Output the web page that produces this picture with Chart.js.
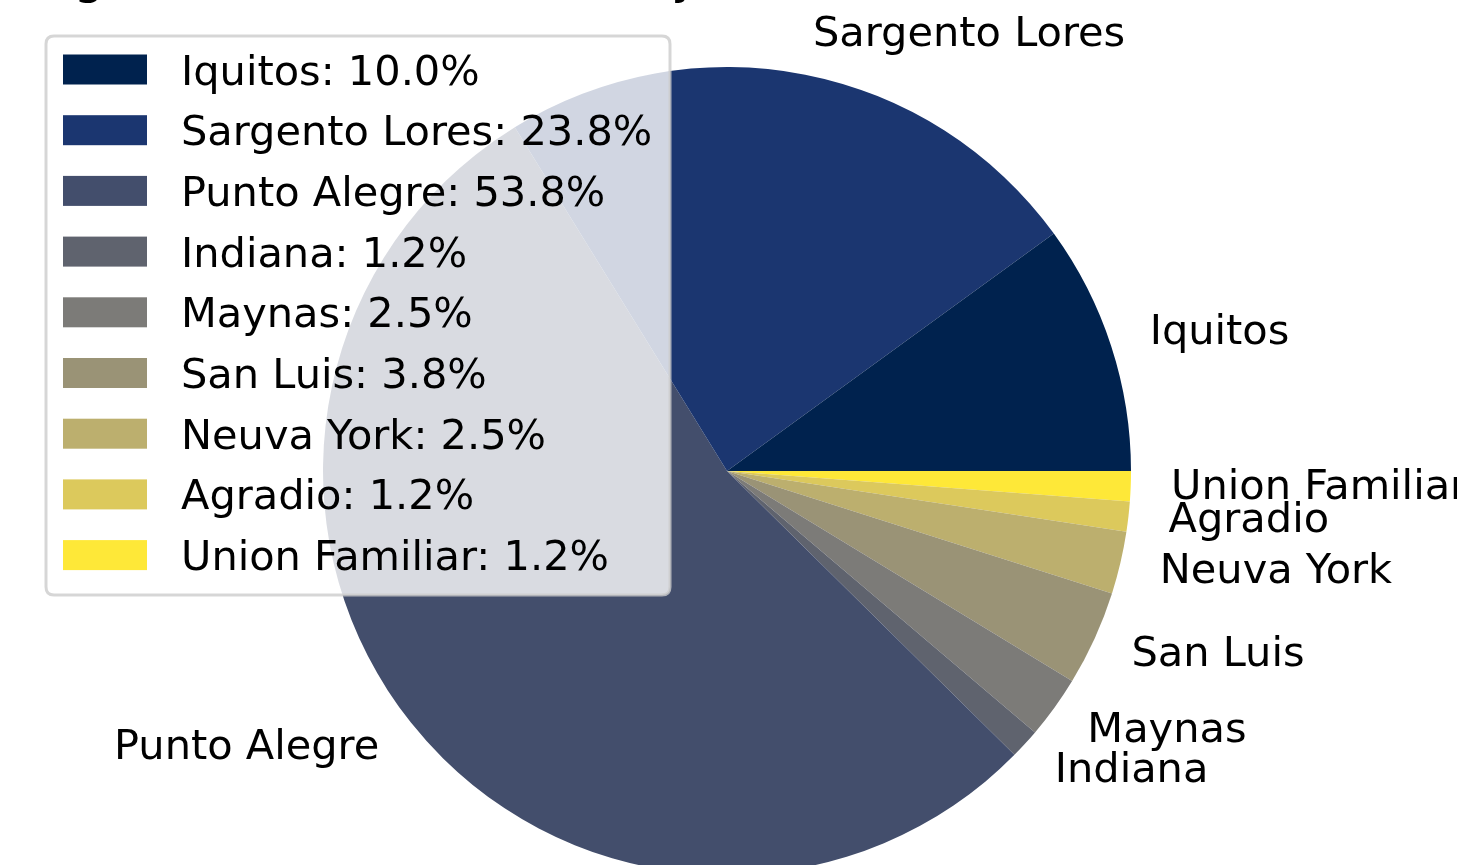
<!DOCTYPE html>
<html>
<head>
<meta charset="utf-8">
<script src="https://cdn.jsdelivr.net/npm/chart.js@4/dist/chart.umd.min.js"></script>
<style>
  html, body { margin: 0; padding: 0; background: #ffffff; overflow: hidden; width: 1457px; height: 865px; }
  #wrap { position: absolute; left: 0; top: 0; width: 1457px; height: 942px; }
  canvas { display: block; }
</style>
</head>
<body>
<div id="wrap"><canvas id="c" width="1457" height="942"></canvas></div>
<script>
// ---- data (counter-clockwise from 3 o'clock, as in the reference) ----
const categories = ["Iquitos", "Sargento Lores", "Punto Alegre", "Indiana", "Maynas", "San Luis", "Neuva York", "Agradio", "Union Familiar"];
const percentages = [10.0, 23.8, 53.8, 1.2, 2.5, 3.8, 2.5, 1.2, 1.2];
const colors = ["#00224e", "#1b3670", "#434e6c", "#5f636e", "#7c7b78", "#9a9376", "#bcaf6e", "#dcc95c", "#fee838"];
const titleText = "Agricultural Households by Settlement";

// Chart.js draws clockwise, so feed the slices in reverse order starting at 3 o'clock
const revLabels = categories.slice().reverse();
const revData = percentages.slice().reverse();
const revColors = colors.slice().reverse();

const FONT = '"DejaVu Sans", "Liberation Sans", sans-serif';
const FS = 41.5;

const overlayPlugin = {
  id: 'overlay',
  afterDatasetsDraw(chart) {
    const ctx = chart.ctx;
    const meta = chart.getDatasetMeta(0);
    ctx.save();
    // slice labels at 1.1 radius
    ctx.font = FS + 'px ' + FONT;
    ctx.fillStyle = '#000000';
    ctx.textBaseline = 'middle';
    meta.data.forEach((arc, i) => {
      const p = arc.getProps(['x', 'y', 'startAngle', 'endAngle', 'outerRadius'], true);
      const a = (p.startAngle + p.endAngle) / 2;
      const r = p.outerRadius * 1.1;
      const x = p.x + r * Math.cos(a);
      const y = p.y + r * Math.sin(a);
      ctx.textAlign = Math.cos(a) > 0 ? 'left' : 'right';
      ctx.fillText(revLabels[i], x, y);
    });
    // title (mostly cut off by the top edge)
    ctx.font = '49px ' + FONT;
    ctx.textAlign = 'left';
    ctx.textBaseline = 'alphabetic';
    ctx.fillText(titleText, 40, -7);

    // legend
    const bx = 46, by = 36, bw = 624, bh = 559, br = 8;
    ctx.beginPath();
    ctx.moveTo(bx + br, by);
    ctx.lineTo(bx + bw - br, by);
    ctx.quadraticCurveTo(bx + bw, by, bx + bw, by + br);
    ctx.lineTo(bx + bw, by + bh - br);
    ctx.quadraticCurveTo(bx + bw, by + bh, bx + bw - br, by + bh);
    ctx.lineTo(bx + br, by + bh);
    ctx.quadraticCurveTo(bx, by + bh, bx, by + bh - br);
    ctx.lineTo(bx, by + br);
    ctx.quadraticCurveTo(bx, by, bx + br, by);
    ctx.closePath();
    ctx.fillStyle = 'rgba(255,255,255,0.8)';
    ctx.fill();
    ctx.lineWidth = 3;
    ctx.strokeStyle = 'rgba(204,204,204,0.8)';
    ctx.stroke();

    ctx.font = FS + 'px ' + FONT;
    ctx.textBaseline = 'alphabetic';
    ctx.textAlign = 'left';
    categories.forEach((name, i) => {
      const cy = 69.5 + i * 60.7;
      ctx.fillStyle = colors[i];
      ctx.fillRect(63, cy - 15, 84, 30);
      ctx.fillStyle = '#000000';
      ctx.fillText(name + ': ' + percentages[i].toFixed(1) + '%', 181, cy + 15);
    });
    ctx.restore();
  }
};

new Chart(document.getElementById('c'), {
  type: 'pie',
  data: {
    labels: revLabels,
    datasets: [{
      data: revData,
      backgroundColor: revColors,
      borderWidth: 0,
      hoverOffset: 0
    }]
  },
  options: {
    responsive: false,
    animation: false,
    rotation: 90,
    layout: { padding: { left: 323, right: 326, top: 67, bottom: 67 } },
    plugins: {
      legend: { display: false },
      tooltip: { enabled: false },
      title: { display: false }
    },
    events: []
  },
  plugins: [overlayPlugin]
});
</script>
</body>
</html>
